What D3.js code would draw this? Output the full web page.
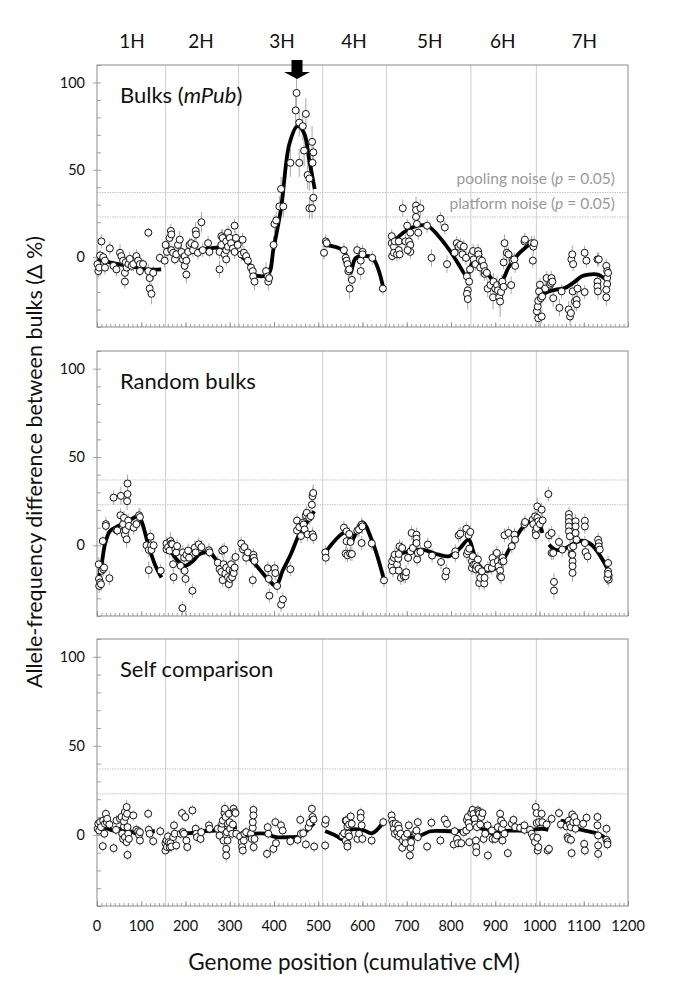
<!DOCTYPE html>
<html><head><meta charset="utf-8">
<script src="https://cdn.jsdelivr.net/npm/d3@7"></script>
<style>
body{margin:0;background:#fff}
svg{display:block}
text{font-family:Lato,"Open Sans",sans-serif}
</style>
</head><body>
<svg id="c" width="685" height="994"></svg>
<script>
// ---------------- DATA ----------------
const chromosomes = ["1H","2H","3H","4H","5H","6H","7H"];
const chromLabelPos = [79, 235, 418, 581, 752, 917, 1101];   // cM
const chromBoundaries = [155, 320, 510, 654, 845, 993];      // cM
const xTicks = [0,100,200,300,400,500,600,700,800,900,1000,1100,1200];
const yTicks = [0,50,100];
const poolingNoise = 37;
const platformNoise = 23;
const qtlPos = 452;
const panelTitles = ["Bulks (mPub)", "Random bulks", "Self comparison"];

// points: [cM, delta %, error]
const bulkPoints = [
[1,-4,4],[3,-8,4],[5,-6,3],[7,1,3],[10,9,4],[14,0,3],[18,-6,4],[18,-2,3],[29,5,4],[37,-5,3],[44,-7,4],[52,2.5,5],[55,0.6,3],[59,-2,4],[63,-9,5],[63,-14,4],[65,-3,3],[67,-6,4],[71,-4,3],[74,-1,4],[78,-5,3],[82,-4,4],[89,0.6,4],[93,-2,3],[97,-4,4],[97,-8,3],[104,-4,3],[116,14,3],[116,-8,4],[119,-12,4],[119,-18,5],[123,-21,6],[127,-9,4],[142,-0.4,3],
[153,-2,4],[155,7,3],[158,3,4],[164,11,5],[167,15,4],[168,13,4],[168,4,3],[172,2.5,4],[176,-1.3,3],[179,1.6,4],[183,7,4],[187,10,5],[191,3,4],[194,-1.3,4],[198,0.6,3],[198,-5,4],[202,-10,5],[202,-2,3],[206,3,4],[209,7,4],[213,8,3],[217,4,4],[221,7,4],[223,15,5],[224,13,4],[228,2.5,4],[236,20,6],[239,4,4],[251,8,4],[254,3,3],[277,3,4],[277,-7,5],[281,7,4],[281,12,4],[284,11,5],[288,1.6,4],[292,9,4],[292,-1.3,4],[292,4,3],[296,14,4],[296,6,3],[300,11,4],[303,8,4],[307,5,3],[311,3,4],[311,18,4],[314,11,4],[318,7,4],
[326,1.6,4],[329,10,4],[332,2.5,4],[337,0.6,3],[341,-2,4],[348,-6,4],[352,-8,4],[353,-11,4],[356,-14,5],[382,-8,5],[386,-11,5],[387,-14,5],[389,-12,4],[399,7,5],[401,19,5],[405,21,5],[412,29,6],[416,39,7],[421,29,6],[437,54,8],[449,84,9],[451,94,9],[457,77,8],[457,54,8],[465,75,8],[468,61,9],[472,82,9],[476,47,8],[480,45,7],[480,28,6],[486,28,6],[486,66,9],[487,54,8],[489,60,8],[489,34,7],
[513,2.5,4],[517,9,4],[519,8,3],[558,4,4],[562,-0.4,4],[564,-2,4],[566,-4,4],[568,-8,5],[570,-7,4],[571,-18,6],[576,-13,5],[588,4,4],[596,-8,5],[596,-2,4],[600,3,4],[600,1.6,3],[622,-0.4,4],[646,-18,4],
[666,12,4],[666,8,4],[667,0.6,3],[671,6,4],[671,2.5,4],[673,9,4],[678,1.6,4],[682,4,4],[682,9,4],[684,1.6,3],[691,28,5],[697,9,4],[701,18,4],[705,9,4],[708,7,4],[708,14,4],[708,3,4],[702,4,3],[721,29.5,5],[721,27,5],[721,23,4],[723,19,4],[726,14,4],[731,28,5],[746,18,4],[756,-0.4,5],[776,22,4],[786,17,4],[791,-4,5],[808,2.5,4],[813,8,4],[817,6,4],[821,7,4],[826,1.6,4],[829,6,4],[834,-0.4,4],[836,-11,5],[838,-19,6],[836,-21,5],[838,-24,6],[841,-14,5],[843,-7,4],
[847,1.6,4],[850,3.5,4],[851,-1.3,4],[855,-4,4],[861,3.5,4],[862,1.6,4],[865,-1.3,4],[866,-6,5],[870,-2,4],[874,-5,4],[876,-9.6,4],[877,-8,4],[881,-9,4],[883,-18,5],[889,-16,5],[895,-23,7],[896,-14,5],[900,-18,5],[904,-16,5],[906,-19,5],[909,-23,6],[911,-25.4,9],[913,-20,5],[915,-15,5],[916,-14,4],[919,-17,5],[921,8,5],[919,-3,4],[926,2.5,4],[930,1.6,4],[936,-16,5],[940,-2,4],[943,-1.3,4],[945,-5,4],[966,9,4],[967,10,4],[982,8,4],[986,6,4],[985,-2,4],[988,8,4],
[994,-31,4],[996,-28.3,4],[997,-35,5],[997,-25,4],[999,-19.6,4],[1001,-15.8,4],[1003,-23.5,4],[1005,-34,4],[1006,-22.5,4],[1013,-18,5],[1016,-12,4],[1024,-15.8,5],[1026,-14.8,4],[1027,-12,4],[1029,-14,4],[1031,-23.5,5],[1045,-29,5],[1050,-19.6,4],[1066,-30,5],[1069,-34,5],[1071,-32,5],[1072,-1.3,5],[1074,1.6,5],[1076,-4,4],[1075,-19.6,5],[1080,-25.4,5],[1084,-24.5,4],[1084,-27,4],[1086,-18,5],[1102,2.5,4],[1106,-2,4],[1102,-20,4],[1131,-1.3,4],[1131,-14,5],[1131,-16.8,5],[1132,-19.6,5],[1134,-1.3,4],[1151,-5,4],[1153,-8,4],[1153,-12,4],[1153,-15.4,4],[1151,-18.7,5],[1151,-23,5],[1155,-9,4]
];
const bulkLines = [
[[1,-1],[29,-3],[59,-4.5],[89,-5.8],[112,-7],[145,-7]],
[[158,4],[179,2.5],[209,2.5],[239,4.4],[269,5.4],[300,6.4],[316,8.3]],
[[326,0.6],[344,-4],[356,-10],[386,-10],[399,5],[416,28],[435,65],[453,75],[468,71],[480,55],[492,39]],
[[513,7],[558,3.5],[573,-9],[585,-0.4],[622,-0.4],[648,-19]],
[[671,9],[690,13.5],[712,17],[746,18],[772,12],[798,3.5],[817,-4],[836,-11],[843,-6],[855,-1.3],[870,-4],[885,-10],[904,-16],[915,-14],[930,-6],[952,1.6],[971,6],[986,9]],
[[996,-25],[1013,-20.6],[1035,-18.7],[1057,-17.7],[1080,-14],[1095,-11],[1110,-10],[1132,-10],[1151,-13]]
];

const randomPoints = [
[4,-10.7,4],[4.5,-19,4],[5,-23,4],[7,-21,3],[9,-22,4],[10.5,-14.4,4],[13,2.4,3],[14,-13.5,4],[16,-12.6,3],[20,12,4],[20,11,3],[28,-18.6,4],[37.5,27,4],[44,8.6,3],[46,8.4,3],[53,17,4],[54,28,5],[59,12,5],[61,15.6,4],[61,8,4],[63,6,4],[65,8.6,5],[67,3.4,5],[68,25,5],[69,29,5],[69,35,5],[70.5,14,4],[72,11,4],[83,10,4],[89,12,4],[95,17,4],[97,16,5],[112,0,4],[117,-2.6,4],[117,-14,5],[121,4.9,4],[122,0,4],[123,-2.6,4],[128,0,4],[144,-14.4,4],
[157,1,4],[157,-2.3,3],[160.6,-1,4],[164,-3,4],[166,2.4,5],[168,1,4],[170,0.6,4],[172,-10.7,4],[173,-18,4],[177,-2.3,4],[179,-4,3],[181,-0.4,4],[189,-11.6,4],[193,-35.5,4],[194,-4,4],[197,-7,4],[198,-14.4,4],[200,-19,4],[202,-5.4,4],[206,-3,4],[208,-7,4],[215.6,-25.7,4],[221,-1.3,4],[223,-4,4],[230,0.6,4],[236,-1,4],[253,-2.8,4],[254.4,-4,3],[273,-9.8,4],[277,-13.5,4],[281,-15,4],[283,-3,4],[284,-19.7,4],[286,-10.7,4],[287.5,-2.3,4],[290,-16,4],[292,-12.6,4],[296,-18,4],[298,-22,4],[299.5,-13.9,4],[301,-19,4],[303,-10.7,4],[305.5,-18,4],[307,-14.4,4],[309,-15.7,4],[311,-12.6,4],[313,-6.6,4],
[326,1,4],[330,-2.3,4],[333,-1,4],[337,-7,4],[341,-4,4],[352,-19.7,4],[353.5,-5.4,4],[354,-7,4],[356,-8.8,4],[386,-13,4],[388,-19,4],[389.5,-28.5,4],[401.5,-13,4],[403,-15.7,4],[407,-23,4],[416,-33.6,4],[420,-30.6,4],[437,-13.5,4],[452,14,4],[452,8.4,4],[457,10.3,4],[461,5.3,4],[464.6,12.7,4],[467,11.8,4],[469,9,4],[472,17,4],[474,18.4,4],[476,6.2,4],[479.6,15.6,4],[483,16.5,4],[485.6,23,4],[487,27.8,5],[488.6,29.6,5],[487,6.2,4],[489,4.7,4],
[516,-4,4],[517,-7,4],[558,10,4],[562,-4.7,4],[564,7.9,4],[564,2.3,4],[566,-5.6,4],[570,6.4,4],[572,-4.7,4],[573,1.9,4],[576,-4.9,4],[588,8.3,4],[592,8.9,4],[598,1.3,4],[598,11.7,4],[599.6,10.7,4],[621,1.1,4],[648.5,-19.8,4],
[665.7,-11.8,4],[667,-9,4],[668.7,-14.3,4],[671,-7.1,4],[673,-5.3,4],[678,-10.9,4],[680.7,-7.5,4],[682,-4.9,4],[682,-14.3,4],[683.7,-0.6,4],[686.7,-18.4,4],[689.7,-1.5,4],[693.5,-17.5,4],[697.2,-17.5,4],[698.7,-15.2,4],[703,-7.1,4],[708.5,-3.4,4],[711,7,4],[713.7,-1.5,4],[722,6,4],[722,3.8,4],[722,1.3,4],[723.5,-8,4],[725,-4.3,4],[731,-3.7,4],[747.5,0.4,4],[757.3,-5.8,4],[777.5,-9.4,4],[787.3,-17.5,4],[789.5,-14.7,4],[809.8,-3.4,4],[809.8,-5.6,4],[817.3,5.7,4],[821,6.6,4],[834.5,9.4,4],[836,-4.9,4],[838.3,-3.4,4],[839.8,5.7,4],[841.3,-1.9,4],[843.6,7.6,4],
[847.3,-9,4],[847.3,-12.8,4],[849.5,-6.2,4],[851,-10.9,4],[854.8,-10.9,4],[856.3,-13.7,4],[858.6,-11.8,4],[860.8,-8,4],[862.3,-13.2,4],[863.8,-21.3,4],[866,-18.4,4],[869.8,-14.7,4],[875,-21.6,4],[875.8,-18.4,4],[883.3,-12.8,4],[892.3,-12.8,4],[893.8,-7.1,4],[896,-10,4],[903.6,-4.3,4],[905.8,-9,4],[907.3,-11.8,4],[911,-14.3,4],[911,-17.5,4],[913.3,-18.1,4],[914.8,-9,4],[916.3,-7.1,4],[918.6,-9,4],[920.9,5.7,4],[929.9,7,4],[937.4,-0.5,4],[943.4,6,4],[944.9,3.2,4],[965.9,12,4],[967.4,13.2,4],[984.6,14.5,4],[986,12,4],[990,16.4,5],[991.4,7.9,4],[992,5.7,4],[993.6,9.8,4],[995,22,5],[995,15.5,4],[997.4,13.6,4],[1001,12,4],[1004.9,20.2,4],[1007,14.1,4],[1020,29,4],
[1021.5,5.7,4],[1027.4,7,4],[1027.4,-4.3,4],[1031,-4.3,4],[1032.7,-20.7,5],[1032.7,-25.6,5],[1044,1.9,4],[1051.4,-2.4,4],[1066.5,17.7,4],[1066.5,15.5,4],[1066.5,13.2,4],[1066.5,10.7,4],[1066.5,7.9,4],[1068.7,5.1,4],[1071,-1.5,4],[1072.5,-4.9,4],[1074.7,-9,4],[1074.7,-11.8,4],[1074.7,-15.6,5],[1074,-5.3,4],[1076.2,-0.6,4],[1081.5,13.6,4],[1081.5,10.7,4],[1081.5,7,4],[1083.7,3.2,4],[1102.5,13.9,4],[1102.5,10.7,4],[1102.5,1.3,4],[1104,-3.8,4],[1108.5,-6.2,4],[1132.5,3.2,4],[1134,1.3,4],[1134,-0.6,4],[1136.2,-2.4,4],[1155,-10,4],[1155,-14.7,4],[1156.5,-17.1,4],[1156.5,-19.4,4],[1153.5,-18.4,4],[1155,-16.2,4]
];
const randomLines = [
[[5,-17],[10.5,-10.7],[18,0.6],[29,8],[48,11],[70.5,13.7],[93,16.5],[100.5,13.7],[115.6,0.6],[130.6,-10.7],[145.6,-18.2]],
[[157,-1.3],[168,-4],[183,-8.8],[198,-11.6],[217,-8.8],[232,-5],[254,-4],[277,-10.7],[299.5,-14.4],[314,-14.4]],
[[326,-1.3],[344.5,-7],[367,-13.5],[389.5,-20],[404.5,-23],[419.5,-14.4],[438,-5],[457,6.2],[476,13.7],[491,19.3]],
[[516,-4],[558,7],[568,5.7],[573,1.3],[599.6,13],[622,2.3],[648.5,-19.4]],
[[667,-10.9],[686,-4.9],[708.5,-3.4],[734.7,-2.4],[772,-5.3],[794.8,-6.2],[817.3,-2.4],[839.8,3.2],[851,-4],[862.3,-10.9],[877.3,-14.3],[900,-13.2],[918.6,-8],[937.4,0.4],[967.4,11.7],[990,14],[999.6,12],[1006.4,7]],
[[1021.5,0.4],[1035,-2.4],[1053.7,-2.4],[1072.5,0.4],[1095,2.6],[1117.5,0.4],[1140,-7.1],[1156.5,-14.7]]
];

const selfPoints = [
[1.5,3.4,3],[3,6.2,3],[5,2.4,3],[7,7.1,3],[9,4.3,3],[13,-6.4,3],[14,8,3],[16.5,0.6,3],[18,6.2,3],[20,11.8,3],[22,7.1,3],[23,9,3],[28,5.8,3],[37.5,-7.5,3],[43,2.8,3],[44,8,3],[52,9,3],[55.5,10,3],[57,0.6,3],[59,-2.3,3],[61,4.7,3],[61,7.5,3],[63,12.8,3],[63,-1.3,3],[64.5,10,3],[67,15.6,4],[67,-4.1,3],[68,11.8,3],[69,4.3,3],[69,-11.3,3],[70.5,0.6,3],[72,-2.3,3],[82,10.9,3],[89,2.8,3],[93,2,3],[95,0,3],[97,-3.2,3],[97,1.5,3],[115.6,11.8,3],[117,2.8,3],[119,0.6,3],[127,-3.6,3],[143,2,3],
[154.6,-4.7,3],[154.6,-8.8,3],[157,-3.2,3],[158,-6.9,3],[160.6,-0.9,3],[162,-4.1,3],[164,-6.9,3],[166,-4.7,3],[168,-6.6,3],[172,-1.3,3],[174,5.3,3],[175.6,0.6,3],[179,-6,3],[189,0.6,3],[192,12.2,3],[194,1.5,3],[196.6,0.6,3],[199.6,10,3],[202,-3.2,3],[204,-6.9,3],[215.6,13.7,3],[223,3.4,3],[224.4,0.6,3],[226,-1.3,3],[234,-2.3,3],[235.6,1.5,3],[253,5.3,3],[254.4,3.4,3],[273,3.4,3],[277,-0.4,3],[281,3.4,3],[283,6.2,3],[284.4,8,3],[286,-3.2,3],[288,12.2,3],[289,14.6,4],[290.5,10,3],[292,-7.9,3],[292,-11.6,4],[293.5,1.5,3],[295,-3.2,3],[295.7,6.2,3],[298,11.8,3],[299.5,7.1,3],[301,3.4,3],[305.5,0.6,3],[307,5.8,3],[308.5,14.6,3],[311,12.8,3],[313,12.2,3],[314.5,0.6,3],
[323.5,-0.9,3],[327,-4.1,3],[328,-6.9,3],[329.5,-8.8,3],[331.7,-3.2,3],[333,0.6,3],[337,1.5,3],[348,0.6,3],[349.7,-2.3,3],[352,3.9,3],[352,7.1,3],[353.5,14,3],[353.5,10.9,3],[354,-6.9,3],[356,-2.3,3],[384.2,-10.7,3],[385.7,4.3,3],[387.2,0.6,3],[398.5,-7.9,3],[403,7.1,3],[404.5,-4.7,3],[415.8,5.3,3],[419.5,2.4,3],[436.8,-3.6,3],[453.3,-2.8,3],[459.3,8.4,3],[460.8,0.6,3],[466,0.9,3],[472,-5.4,3],[478,4.3,3],[481,6.8,3],[485.6,14.6,3],[487,10,3],[489.3,8.6,3],[490.8,-6.6,3],
[515.6,6.2,3],[517,8.4,3],[515.6,-6,3],[554.6,-0.4,3],[558.4,0.9,3],[562,-3.2,3],[562,8,3],[563.6,8,3],[565.9,4.7,3],[565.9,-5.1,3],[566,-6.6,3],[568.1,0.6,3],[569.6,5.8,3],[569.6,-0.9,3],[573.4,10.3,3],[575.6,6.2,3],[588.4,-2.3,3],[592.1,0.6,3],[595.9,12.2,3],[595.9,9.6,3],[598.1,5.3,3],[599.6,-2.3,3],[620.6,-3.2,3],[646.9,7.1,3],
[665.7,10.9,3],[667,8,3],[669.5,6.2,3],[671,3.4,3],[673.2,0.6,3],[674.7,6.2,3],[678.5,1.5,3],[680.7,5.3,3],[682.2,3.4,3],[682.2,-0.9,3],[686,0.6,3],[689.7,-7.3,3],[691.2,-3.2,3],[695.7,-1.3,3],[697.2,-4.7,3],[701,0.6,3],[704.7,5.3,3],[707,-11.6,3],[708.5,-7.3,3],[710,-4.1,3],[718.2,0.6,3],[721.2,0.6,3],[722,2.4,3],[725,7.1,3],[725,-1.3,3],[746,-6.6,3],[755.7,6.8,3],[776,-3.2,3],[785.8,8.6,3],[791,6.2,3],[806,-5.4,3],[808.3,2,3],[813.5,-2.3,3],[815.8,-4.7,3],[823.3,-4.7,3],[828.5,1.5,3],[834.5,2.4,3],[836,8.4,3],[838.3,10,3],[839.8,6.6,3],[841.3,-4.1,3],[842,4.3,3],
[845.8,12.2,3],[848.8,14,3],[851,11.8,3],[853.3,9,3],[854.8,5.8,3],[856.3,-3.2,3],[857,-6.9,3],[857,-9.8,3],[858.6,4.3,3],[860.8,13.7,3],[862.3,12.8,3],[863.8,11.8,3],[866,5.8,3],[868.3,10,3],[871.3,12.2,3],[873.6,-2.3,3],[877.3,0.6,3],[882.6,5.3,3],[883.3,-11.6,3],[892.3,2.4,3],[893.8,-2.3,3],[899.8,-2.3,3],[903.6,-0.4,3],[905.8,4.3,3],[911,11.8,3],[913.3,8,3],[914.8,3.4,3],[916.3,-3.2,3],[918.6,6.2,3],[920.9,0.6,3],[928.4,-10.3,3],[937.4,6.2,3],[941.1,8.4,3],[944.9,4.3,3],[956.1,3.9,3],[965.9,2.8,3],[965.9,5.3,3],[978.6,2.8,3],[982.4,0.6,3],[986,-1.3,3],[989.8,-4.1,3],[991.4,15.6,4],[993.6,12.2,3],[993.6,6.6,3],[995.1,-1.7,3],[995.8,-8.8,3],[997.4,-6.9,3],[998.9,7.1,3],[1004.9,11.8,3],[1006.4,7.1,3],[1016.1,5.8,3],[1018.4,-8.8,3],[1021.4,-7.9,3],[1027.4,9,3],
[1044,12.2,3],[1048.4,5.8,3],[1061.2,4.7,3],[1063.4,-1.3,3],[1065,-2.3,3],[1066.4,8,3],[1068.7,5.8,3],[1071,4.3,3],[1071,-2.8,3],[1072.5,-10.3,3],[1074,11.4,3],[1076.2,7.1,3],[1078.5,10,3],[1081.5,3.4,3],[1083.7,7.1,3],[1098.7,6.2,3],[1101,-5.1,3],[1102.5,-8.8,3],[1106.3,9.6,3],[1131,10,3],[1131,5.3,3],[1132.5,-0.4,3],[1132.5,-6,3],[1132.5,-10.7,4],[1151.3,3.4,3],[1151.3,-2.8,3],[1153.5,-4.1,3],[1153.5,-5.4,3]
];
const selfLines = [
[[1.5,3.4],[18,3.9],[37,2.4],[55.5,3.4],[70.5,2.4],[89,0.6],[100.5,-1.3]],
[[115.6,1.9],[130.6,2]],
[[157,-4.1],[172,-0.9],[190.6,0.9],[209.4,0.9],[239.4,2],[269.4,2.4],[292,2.8],[307,3.9],[316,4.3]],
[[323.5,0.6],[340.7,-0.4],[355.7,0.6],[382,0.6],[404.5,-1.3],[434.5,-1.3],[457,-0.9],[468,0.9],[479.6,3.9],[491,6.6]],
[[515.6,2.1],[540,-0.5],[556,-2.5],[573,2.8],[600,2.8],[622,0.9],[647,7.1]],
[[665.7,4.3],[689.7,0.9],[708.5,-1.3],[731,-0.4],[753.5,2],[802.3,2],[828.5,2.4],[843.6,4.3]],
[[847.3,5.3],[870,3.4],[896,0.6],[914.8,2],[937.4,2.4],[960,2.4],[982.4,2.8],[1004.9,3.4],[1020,2.8]],
[[1048.4,8],[1072.5,6.2],[1087.5,3.4],[1132.5,0.6],[1151.3,-2.3]]
];

// ---------------- DRAWING ----------------
const svg = d3.select("#c");
const X0 = 97, X1 = 628;
const panelBox = [[65,327],[351,616],[639,906]];
const x = d3.scaleLinear().domain([0,1200]).range([X0,X1]);
const panels = [
  {pts: bulkPoints, lines: bulkLines},
  {pts: randomPoints, lines: randomLines},
  {pts: selfPoints, lines: selfLines}
];
const GRID = "#cfcfcf", FRAME = "#8c8c8c", TICK = "#8c8c8c";

panels.forEach((p, i) => {
  const [top, bot] = panelBox[i];
  const y = d3.scaleLinear().domain([-40,110]).range([bot, top]);
  const g = svg.append("g");

  g.selectAll(".vg").data(chromBoundaries).join("line")
    .attr("x1", d => x(d)).attr("x2", d => x(d))
    .attr("y1", top).attr("y2", bot)
    .attr("stroke", GRID).attr("stroke-width", 1);

  g.selectAll(".hn").data([poolingNoise, platformNoise]).join("line")
    .attr("x1", X0).attr("x2", X1)
    .attr("y1", d => y(d)).attr("y2", d => y(d))
    .attr("stroke", "#c4c4c4").attr("stroke-width", 1).attr("stroke-dasharray", "1.5,1");

  const yMinor = d3.axisLeft(y).tickValues(d3.range(-40, 111, 10)).tickSize(-4).tickFormat("");
  const gyM = g.append("g").attr("transform", `translate(${X0},0)`).call(yMinor);
  const yMajor = d3.axisLeft(y).tickValues(yTicks).tickSize(4).tickPadding(8);
  const gy = g.append("g").attr("transform", `translate(${X0},0)`).call(yMajor);
  gy.selectAll("text").attr("font-size", 14.5).attr("fill", "#111").attr("font-family", "Lato");

  const xMinor = d3.axisBottom(x).tickValues(d3.range(0, 1201, 10)).tickSize(-3).tickFormat("");
  const gxM = g.append("g").attr("transform", `translate(0,${bot})`).call(xMinor);
  const xMajor = d3.axisBottom(x).tickValues(xTicks).tickSize(-5).tickFormat("");
  const gx = g.append("g").attr("transform", `translate(0,${bot})`).call(xMajor);
  [gyM, gy, gxM, gx].forEach(a => {
    a.select(".domain").remove();
    a.selectAll("line").attr("stroke", TICK).attr("stroke-width", 0.8);
  });
  if (i === 2) {
    g.selectAll(".xl").data(xTicks).join("text")
      .attr("x", d => x(d)).attr("y", bot + 25)
      .attr("text-anchor", "middle").attr("font-size", 14.5).attr("fill", "#111")
      .text(d => d);
  }

  g.append("rect").attr("x", X0).attr("y", top).attr("width", X1 - X0).attr("height", bot - top)
    .attr("fill", "none").attr("stroke", FRAME).attr("stroke-width", 1);

  g.selectAll(".eb").data(p.pts).join("line")
    .attr("x1", d => x(d[0])).attr("x2", d => x(d[0]))
    .attr("y1", d => y(d[1] - d[2])).attr("y2", d => y(d[1] + d[2]))
    .attr("stroke", "#a8a8a8").attr("stroke-width", 1);

  const line = d3.line().x(d => x(d[0])).y(d => y(d[1])).curve(d3.curveCatmullRom.alpha(0.5));
  g.selectAll(".sl").data(p.lines).join("path")
    .attr("d", line).attr("fill", "none")
    .attr("stroke", "#000").attr("stroke-width", 3.8)
    .attr("stroke-linejoin", "round").attr("stroke-linecap", "butt");

  g.selectAll(".pt").data(p.pts).join("circle")
    .attr("cx", d => x(d[0])).attr("cy", d => y(d[1])).attr("r", 3.5)
    .attr("fill", "#fff").attr("stroke", "#111").attr("stroke-width", 1);

  const t = g.append("text").attr("x", 120).attr("y", top + 38)
    .attr("font-size", 22).attr("fill", "#111");
  if (i === 0) {
    t.append("tspan").text("Bulks (");
    t.append("tspan").attr("font-style", "italic").text("mPub");
    t.append("tspan").text(")");
  } else {
    t.text(panelTitles[i]);
  }

  if (i === 0) {
    const n1 = g.append("text").attr("x", 615).attr("y", y(poolingNoise) - 9)
      .attr("text-anchor", "end").attr("font-size", 15.5).attr("fill", "#9a9a9a");
    n1.append("tspan").text("pooling noise (");
    n1.append("tspan").attr("font-style", "italic").text("p");
    n1.append("tspan").text(" = 0.05)");
    const n2 = g.append("text").attr("x", 615).attr("y", y(platformNoise) - 8)
      .attr("text-anchor", "end").attr("font-size", 15.5).attr("fill", "#9a9a9a");
    n2.append("tspan").text("platform noise (");
    n2.append("tspan").attr("font-style", "italic").text("p");
    n2.append("tspan").text(" = 0.05)");

    const ax = x(qtlPos);
    g.append("path")
      .attr("d", `M${ax-5.5},60 L${ax+5.5},60 L${ax+5.5},72 L${ax+13},72 L${ax},79 L${ax-13},72 L${ax-5.5},72 Z`)
      .attr("fill", "#000");
  }
});

svg.selectAll(".cl").data(chromosomes).join("text")
  .attr("x", (d, i) => x(chromLabelPos[i])).attr("y", 48)
  .attr("text-anchor", "middle").attr("font-size", 19).attr("fill", "#111")
  .text(d => d);

svg.append("text").attr("x", 354).attr("y", 970).attr("text-anchor", "middle")
  .attr("font-size", 22.5).attr("fill", "#111").text("Genome position (cumulative cM)");
svg.append("text").attr("transform", "translate(42,462) rotate(-90)")
  .attr("text-anchor", "middle").attr("font-size", 21.5).attr("fill", "#111")
  .text("Allele-frequency difference between bulks (Δ %)");
</script>
</body></html>
